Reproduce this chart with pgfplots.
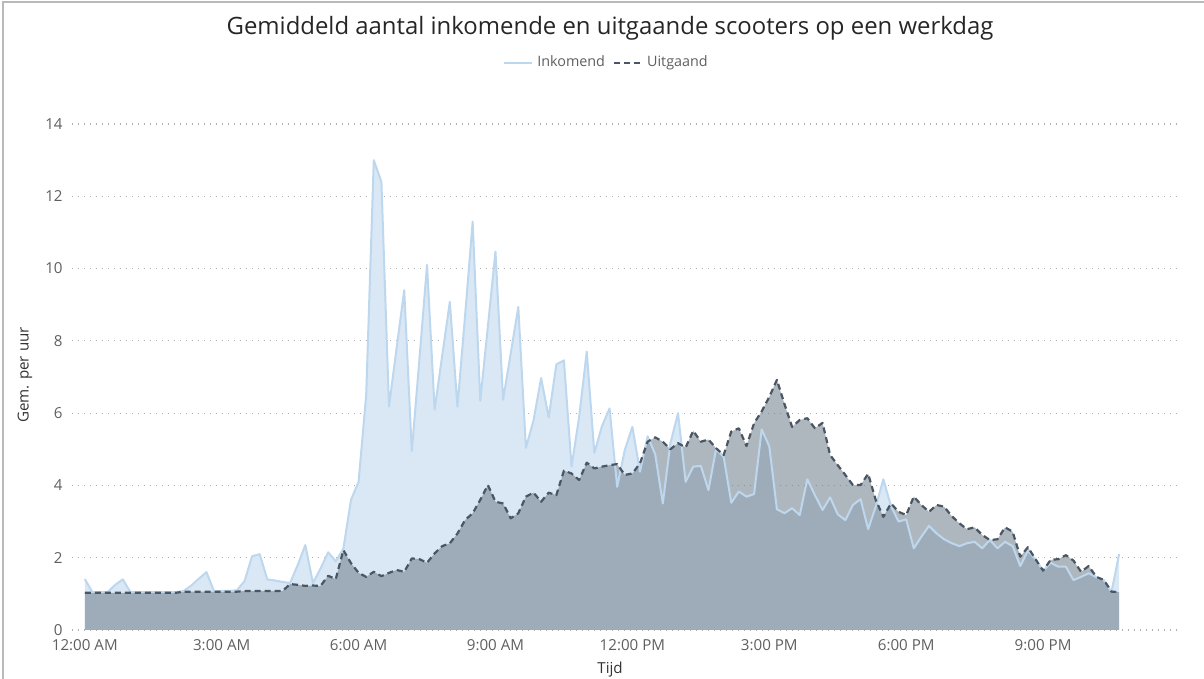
\documentclass[border=0pt]{standalone}
\usepackage{pgfplots}
\pgfplotsset{compat=1.18}
\usepackage{pgfplotstable}
\usepackage{fontspec}
\setmainfont{Open Sans}

\definecolor{incline}{HTML}{BDD7EE}
\definecolor{incfill}{HTML}{DAE8F5}
\definecolor{outline}{HTML}{4A5663}
\definecolor{outfill}{HTML}{6E7B88}
\definecolor{gridc}{HTML}{B0B0B0}
\definecolor{labelc}{HTML}{5F5F5F}

% i = tien-minutenblok (0 = 00:00), inc = Inkomend, out = Uitgaand
\pgfplotstableread{
i inc out
0 1.41 1.03
1 1.05 1.03
2 1.05 1.03
3 1.05 1.03
4 1.25 1.03
5 1.40 1.03
6 1.05 1.03
7 1.05 1.03
8 1.05 1.03
9 1.05 1.03
10 1.05 1.03
11 1.05 1.03
12 1.05 1.03
13 1.08 1.06
14 1.23 1.06
15 1.42 1.06
16 1.60 1.06
17 1.07 1.06
18 1.08 1.06
19 1.08 1.06
20 1.10 1.06
21 1.35 1.08
22 2.04 1.08
23 2.10 1.08
24 1.40 1.08
25 1.37 1.08
26 1.33 1.08
27 1.30 1.27
28 1.80 1.25
29 2.35 1.22
30 1.30 1.23
31 1.70 1.22
32 2.15 1.50
33 1.90 1.41
34 2.25 2.21
35 3.60 1.85
36 4.10 1.58
37 6.50 1.47
38 13.00 1.61
39 12.40 1.49
40 6.18 1.58
41 7.80 1.66
42 9.40 1.61
43 4.95 1.98
44 7.50 1.96
45 10.10 1.86
46 6.10 2.12
47 7.60 2.32
48 9.08 2.40
49 6.18 2.67
50 8.70 3.04
51 11.30 3.23
52 6.34 3.60
53 8.40 4.01
54 10.47 3.55
55 6.37 3.50
56 7.65 3.09
57 8.94 3.23
58 5.04 3.69
59 5.80 3.80
60 6.97 3.55
61 5.88 3.80
62 7.35 3.73
63 7.46 4.41
64 4.52 4.33
65 5.90 4.15
66 7.70 4.63
67 4.90 4.47
68 5.64 4.52
69 6.13 4.56
70 3.96 4.59
71 4.98 4.29
72 5.62 4.33
73 4.38 4.61
74 5.36 5.21
75 4.86 5.33
76 3.50 5.21
77 5.17 5.00
78 6.00 5.17
79 4.10 5.05
80 4.52 5.51
81 4.54 5.21
82 3.87 5.27
83 5.00 5.03
84 4.79 4.84
85 3.52 5.49
86 3.83 5.58
87 3.69 5.09
88 3.76 5.72
89 5.55 6.05
90 5.08 6.45
91 3.34 6.92
92 3.23 6.25
93 3.37 5.62
94 3.18 5.81
95 4.17 5.86
96 3.73 5.58
97 3.32 5.73
98 3.67 4.84
99 3.20 4.56
100 3.04 4.29
101 3.46 4.01
102 3.62 4.01
103 2.79 4.32
104 3.41 3.60
105 4.17 3.13
106 3.43 3.50
107 3.00 3.27
108 3.06 3.18
109 2.26 3.69
110 2.58 3.46
111 2.88 3.27
112 2.67 3.46
113 2.51 3.41
114 2.40 3.15
115 2.32 2.95
116 2.40 2.79
117 2.44 2.84
118 2.26 2.63
119 2.49 2.49
120 2.26 2.51
121 2.44 2.84
122 2.32 2.72
123 1.77 2.03
124 2.19 2.29
125 1.96 1.96
126 1.64 1.64
127 1.86 1.94
128 1.75 1.96
129 1.75 2.07
130 1.38 1.92
131 1.47 1.61
132 1.57 1.77
133 1.46 1.47
134 1.38 1.38
135 1.06 1.06
136 2.10 1.05
}\scooters

\begin{document}
\begin{tikzpicture}
  \path[use as bounding box] (0,0) rectangle (602bp,339.5bp);
  \draw[gray!55, line width=0.7bp] (1.5bp,0) -- (1.5bp,338.5bp) -- (602bp,338.5bp);

  \begin{axis}[
    at={(36bp,24.5bp)}, anchor=south west,
    scale only axis,
    width=554bp, height=253bp,
    xmin=-0.28, xmax=24,
    ymin=0, ymax=14,
    axis line style={draw=none},
    major tick length=0pt,
    ytick={0,2,...,14},
    xtick={0,3,...,21},
    xticklabels={12:00 AM,3:00 AM,6:00 AM,9:00 AM,12:00 PM,3:00 PM,6:00 PM,9:00 PM},
    ymajorgrids,
    major grid style={gridc, line width=0.6bp, dash pattern=on 0.6bp off 2.4bp},
    /pgf/number format/assume math mode=true,
    ticklabel style={font=\fontsize{7.6}{9}\selectfont, text=labelc},
    yticklabel style={anchor=east, inner sep=0pt, xshift=-4.5bp},
    xticklabel style={anchor=north, inner sep=0pt, yshift=-4.5bp},
    title={Gemiddeld aantal inkomende en uitgaande scooters op een werkdag},
    title style={at={(0.4856,1.19)}, anchor=center, yshift=-6pt,
      font=\fontsize{12}{14}\selectfont, text=black!85, inner sep=0pt},
    xlabel={Tijd},
    xlabel style={at={(0.4856,-0.078)}, anchor=center, font=\fontsize{7.6}{9}\selectfont, text=black!80, inner sep=0pt},
    ylabel={Gem. per uur},
    ylabel style={at={(-0.0425,0.504)}, anchor=center, rotate=0, font=\fontsize{7.6}{9}\selectfont, text=black!80, inner sep=0pt},
    legend columns=2,
    legend style={at={(0.4833,1.1206)}, anchor=center, draw=none, fill=none,
      font=\fontsize{7.2}{9}\selectfont, text=labelc,
      /tikz/every even column/.append style={column sep=2bp}},
    legend cell align=left,
    legend image code/.code={\draw[#1] (0bp,0bp) -- (14bp,0bp);},
  ]
    \addplot[draw=none, fill=incfill, forget plot]
      table[x expr=\thisrow{i}/6, y=inc] {\scooters} \closedcycle;
    \addplot[draw=none, fill=outfill, fill opacity=0.55, forget plot]
      table[x expr=\thisrow{i}/6, y=out] {\scooters} \closedcycle;
    \addplot[incline, line width=1bp, line join=round]
      table[x expr=\thisrow{i}/6, y=inc] {\scooters};
    \addlegendentry{Inkomend}
    \addplot[outline, line width=1.1bp, dash pattern=on 3bp off 2bp, line join=round]
      table[x expr=\thisrow{i}/6, y=out] {\scooters};
    \addlegendentry{Uitgaand}
  \end{axis}
\end{tikzpicture}
\end{document}
